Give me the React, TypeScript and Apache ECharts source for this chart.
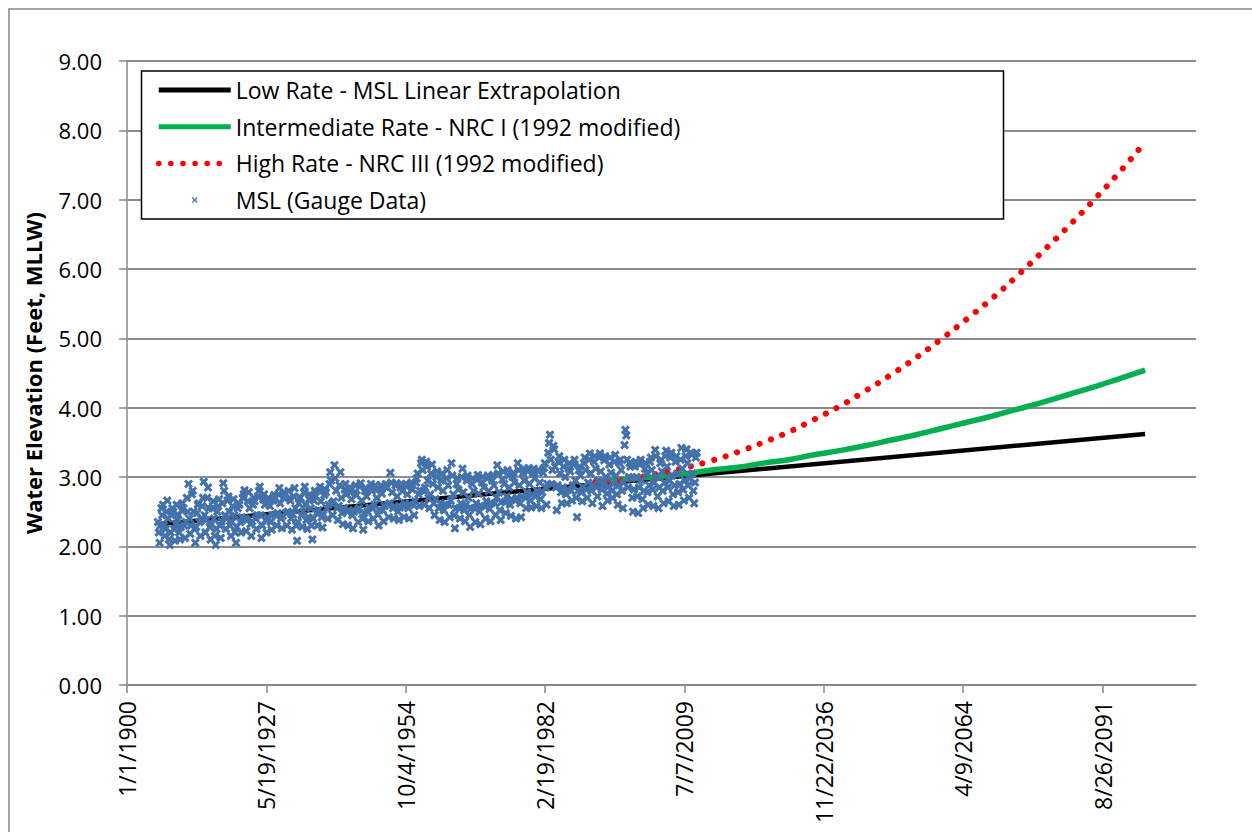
import React, { useEffect, useRef } from "react";
import * as echarts from "echarts";

const tickLabels = ["1/1/1900", "5/19/1927", "10/4/1954", "2/19/1982", "7/7/2009", "11/22/2036", "4/9/2064", "8/26/2091"];

const LOW = "Low Rate - MSL Linear Extrapolation";
const INT = "Intermediate Rate - NRC I (1992 modified)";
const HIGH = "High Rate - NRC III (1992 modified)";
const MSL = "MSL (Gauge Data)";

const lowYears = [1906, 2100];
const lowValues = [2.32, 3.62];

const projYears = [1992, 1995, 2000, 2005, 2010, 2015, 2020, 2025, 2030, 2035, 2040, 2045, 2050, 2055, 2060, 2065, 2070, 2075, 2080, 2085, 2090, 2095, 2100];
const intermediateValues = [2.93, 2.95, 2.98, 3.01, 3.05, 3.10, 3.14, 3.20, 3.25, 3.32, 3.38, 3.45, 3.53, 3.61, 3.70, 3.79, 3.88, 3.98, 4.08, 4.19, 4.30, 4.42, 4.54];
const highValues = [2.93, 2.95, 2.99, 3.06, 3.14, 3.24, 3.36, 3.50, 3.65, 3.83, 4.02, 4.24, 4.47, 4.72, 4.99, 5.28, 5.58, 5.91, 6.26, 6.62, 7.00, 7.40, 7.83];

// Gauge data: six readings per year, starting 1906
const mslFirstYear = 1906;
const mslPerYear = 6;
const msl1900s = [
  2.35, 2.20, 2.05, 2.30, 2.55, 2.45,
  2.60, 2.30, 2.15, 2.25, 2.50, 2.66,
  2.40, 2.10, 2.02, 2.20, 2.45, 2.55,
  2.50, 2.25, 2.08, 2.32, 2.60, 2.40,
];
const msl1910s = [
  2.45, 2.20, 2.10, 2.28, 2.52, 2.62,
  2.55, 2.30, 2.12, 2.35, 2.70, 2.50,
  2.90, 2.40, 2.18, 2.30, 2.75, 2.80,
  2.50, 2.25, 2.05, 2.28, 2.48, 2.60,
  2.62, 2.35, 2.15, 2.40, 2.58, 2.70,
  2.93, 2.45, 2.20, 2.38, 2.70, 2.85,
  2.55, 2.28, 2.10, 2.32, 2.55, 2.65,
  2.40, 2.15, 2.02, 2.25, 2.50, 2.58,
  2.68, 2.30, 2.12, 2.36, 2.62, 2.91,
  2.80, 2.45, 2.25, 2.40, 2.66, 2.72,
];
const msl1920s = [
  2.50, 2.30, 2.15, 2.35, 2.58, 2.68,
  2.45, 2.20, 2.05, 2.28, 2.55, 2.62,
  2.60, 2.35, 2.20, 2.42, 2.70, 2.75,
  2.81, 2.40, 2.22, 2.38, 2.65, 2.78,
  2.55, 2.32, 2.15, 2.36, 2.60, 2.70,
  2.65, 2.40, 2.25, 2.45, 2.72, 2.80,
  2.86, 2.45, 2.12, 2.30, 2.68, 2.75,
  2.60, 2.38, 2.20, 2.42, 2.70, 2.66,
  2.58, 2.35, 2.24, 2.45, 2.66, 2.74,
  2.70, 2.45, 2.30, 2.48, 2.75, 2.84,
];
const msl1930s = [
  2.62, 2.40, 2.26, 2.44, 2.70, 2.78,
  2.75, 2.48, 2.30, 2.50, 2.80, 2.70,
  2.66, 2.40, 2.24, 2.46, 2.72, 2.84,
  2.55, 2.30, 2.08, 2.35, 2.62, 2.70,
  2.70, 2.45, 2.28, 2.50, 2.78, 2.86,
  2.60, 2.38, 2.25, 2.42, 2.68, 2.75,
  2.55, 2.30, 2.10, 2.40, 2.66, 2.80,
  2.72, 2.48, 2.30, 2.52, 2.80, 2.86,
  2.65, 2.42, 2.27, 2.46, 2.74, 2.82,
  2.78, 2.55, 2.40, 2.60, 2.90, 3.07,
];
const msl1940s = [
  2.95, 2.62, 2.45, 2.65, 3.17, 2.98,
  2.80, 2.55, 2.38, 2.58, 2.88, 3.07,
  2.70, 2.48, 2.32, 2.55, 2.82, 2.90,
  2.75, 2.50, 2.30, 2.52, 2.85, 2.78,
  2.68, 2.45, 2.26, 2.50, 2.78, 2.88,
  2.74, 2.52, 2.35, 2.55, 2.86, 2.91,
  2.66, 2.40, 2.24, 2.48, 2.80, 2.84,
  2.72, 2.50, 2.36, 2.56, 2.84, 2.90,
  2.80, 2.55, 2.40, 2.60, 2.88, 2.82,
  2.70, 2.46, 2.30, 2.52, 2.82, 2.88,
];
const msl1950s = [
  2.76, 2.52, 2.36, 2.58, 2.86, 2.90,
  2.85, 2.60, 2.42, 2.62, 3.06, 2.92,
  2.78, 2.55, 2.40, 2.58, 2.88, 2.91,
  2.72, 2.50, 2.38, 2.56, 2.85, 2.90,
  2.80, 2.58, 2.42, 2.62, 2.90, 2.86,
  2.75, 2.55, 2.40, 2.60, 2.88, 2.92,
  2.82, 2.60, 2.45, 2.65, 2.92, 2.98,
  3.05, 2.75, 2.58, 2.80, 3.20, 3.25,
  3.10, 2.80, 2.60, 2.85, 3.22, 3.15,
  2.95, 2.70, 2.55, 2.75, 3.05, 3.18,
];
const msl1960s = [
  2.90, 2.62, 2.45, 2.68, 3.00, 3.08,
  2.85, 2.55, 2.38, 2.62, 2.95, 3.05,
  2.80, 2.52, 2.35, 2.60, 2.98, 3.10,
  2.88, 2.60, 2.42, 2.66, 3.20, 3.02,
  2.75, 2.45, 2.26, 2.55, 2.90, 2.98,
  2.82, 2.55, 2.40, 2.62, 3.00, 3.12,
  2.78, 2.52, 2.36, 2.60, 2.95, 3.02,
  2.70, 2.45, 2.28, 2.55, 2.90, 2.98,
  2.80, 2.55, 2.35, 2.62, 2.96, 3.03,
  2.76, 2.50, 2.32, 2.58, 2.92, 3.00,
];
const msl1970s = [
  2.85, 2.58, 2.40, 2.65, 2.98, 3.02,
  2.80, 2.54, 2.36, 2.62, 2.95, 3.03,
  2.88, 2.62, 2.45, 2.70, 3.17, 3.05,
  2.78, 2.52, 2.38, 2.64, 2.96, 3.08,
  2.90, 2.64, 2.48, 2.72, 3.10, 3.02,
  2.85, 2.60, 2.44, 2.68, 3.00, 3.06,
  2.92, 2.66, 2.40, 2.70, 3.20, 3.10,
  2.88, 2.62, 2.42, 2.72, 3.05, 3.12,
  2.95, 2.70, 2.55, 2.78, 3.08, 3.13,
  2.90, 2.66, 2.56, 2.75, 3.05, 3.12,
];
const msl1980s = [
  2.98, 2.72, 2.58, 2.80, 3.10, 3.08,
  2.92, 2.68, 2.55, 2.78, 3.06, 3.13,
  3.20, 2.85, 2.60, 2.90, 3.35, 3.49,
  3.61, 3.25, 2.90, 3.10, 3.45, 3.40,
  3.15, 2.85, 2.52, 2.88, 3.22, 3.30,
  3.05, 2.78, 2.62, 2.85, 3.15, 3.25,
  3.00, 2.75, 2.62, 2.82, 3.12, 3.20,
  3.08, 2.80, 2.66, 2.88, 3.18, 3.25,
  2.95, 2.70, 2.42, 2.80, 3.10, 3.15,
  3.02, 2.78, 2.65, 2.86, 3.20, 3.28,
];
const msl1990s = [
  3.10, 2.82, 2.70, 2.92, 3.25, 3.34,
  3.05, 2.80, 2.62, 2.88, 3.22, 3.30,
  3.12, 2.85, 2.72, 2.95, 3.28, 3.34,
  3.08, 2.82, 2.58, 2.90, 3.24, 3.30,
  3.00, 2.76, 2.66, 2.86, 3.18, 3.28,
  3.06, 2.80, 2.70, 2.90, 3.22, 3.32,
  3.02, 2.75, 2.60, 2.88, 3.20, 3.25,
  3.10, 2.80, 2.55, 2.92, 3.46, 3.68,
  3.60, 3.25, 2.85, 3.00, 3.20, 3.15,
  2.98, 2.70, 2.50, 2.82, 3.15, 3.22,
];
const msl2000s = [
  3.00, 2.72, 2.48, 2.85, 3.18, 3.25,
  2.95, 2.68, 2.55, 2.80, 3.12, 3.20,
  3.05, 2.78, 2.60, 2.88, 3.22, 3.28,
  3.10, 2.82, 2.58, 2.92, 3.39, 3.30,
  3.00, 2.72, 2.55, 2.85, 3.20, 3.25,
  3.08, 2.80, 2.62, 2.92, 3.30, 3.38,
  3.15, 2.85, 2.65, 2.95, 3.28, 3.35,
  3.02, 2.75, 2.58, 2.88, 3.22, 3.30,
  3.05, 2.78, 2.60, 2.90, 3.25, 3.42,
  3.12, 2.82, 2.66, 2.95, 3.30, 3.40,
];
const msl2010s = [
  3.20, 2.88, 2.70, 2.98, 3.35, 3.32,
  3.05, 2.80, 2.62, 2.92, 3.28, 3.35,
];

const toDays = (year: number) => (year - 1900) * 365.25;

const FONT = "'Open Sans', 'Noto Sans', sans-serif";

export default function App() {
  const ref = useRef<HTMLDivElement>(null);

  useEffect(() => {
    if (!ref.current) return;
    const chart = echarts.init(ref.current, undefined, { renderer: "svg" });

    const mslAll = ([] as number[]).concat(
      msl1900s, msl1910s, msl1920s, msl1930s, msl1940s, msl1950s,
      msl1960s, msl1970s, msl1980s, msl1990s, msl2000s, msl2010s
    );
    const mslData = mslAll.map((v, i) => [
      toDays(mslFirstYear + (i + 0.5) / mslPerYear),
      v,
    ]);
    const lowData = lowYears.map((y, i) => [toDays(y), lowValues[i]]);
    const intData = projYears.map((y, i) => [toDays(y), intermediateValues[i]]);
    const highData = projYears.map((y, i) => [toDays(y), highValues[i]]);

    const tickVals = tickLabels.map((_, i) => i * 10000);
    const xSymbol =
      "path://M0,2.4L2.4,0L5,2.6L7.6,0L10,2.4L7.4,5L10,7.6L7.6,10L5,7.4L2.4,10L0,7.6L2.6,5Z";
    const legendXIcon =
      "path://M0,0L0,0M72,14L72,14M33,4.9L33.9,4L36,6.1L38.1,4L39,4.9L36.9,7L39,9.1L38.1,10L36,7.9L33.9,10L33,9.1L35.1,7Z";
    const hiddenSymbol = { opacity: 0 };

    chart.setOption({
      animation: false,
      backgroundColor: "#ffffff",
      textStyle: { fontFamily: FONT },
      graphic: [
        {
          type: "rect",
          z: 0,
          silent: true,
          shape: { x: 9, y: 9, width: 1300, height: 900 },
          style: { fill: "none", stroke: "#888888", lineWidth: 1.5 },
        },
        {
          type: "rect",
          z: 3,
          silent: true,
          shape: { x: 141.5, y: 71, width: 862, height: 148 },
          style: { fill: "#ffffff", stroke: "#000000", lineWidth: 1.5 },
        },
      ],
      grid: { left: 127, top: 61, right: 56, bottom: 147, containLabel: false },
      legend: {
        orient: "vertical",
        left: 156,
        top: 78,
        padding: 0,
        z: 10,
        itemWidth: 72,
        itemHeight: 14,
        itemGap: 12.7,
        selectedMode: false,
        textStyle: { fontSize: 23, color: "#000", fontFamily: FONT, lineHeight: 24 },
        data: [
          { name: LOW, itemStyle: hiddenSymbol, lineStyle: { width: 5, color: "#000000" } },
          { name: INT, itemStyle: hiddenSymbol, lineStyle: { width: 5, color: "#00B050" } },
          {
            name: HIGH,
            itemStyle: hiddenSymbol,
            lineStyle: { width: 5.5, color: "#FF0000", type: [0.1, 12], cap: "round" },
          },
          { name: MSL, icon: legendXIcon },
        ],
      },
      xAxis: {
        type: "value",
        min: 0,
        max: 76702,
        interval: 10000,
        axisLine: { show: true, lineStyle: { color: "#888888", width: 1.5 } },
        axisTick: {
          show: true,
          length: 8,
          customValues: tickVals,
          lineStyle: { color: "#888888", width: 1.5 },
        },
        axisLabel: {
          customValues: tickVals,
          rotate: 90,
          margin: 16,
          fontSize: 23,
          color: "#000",
          fontFamily: FONT,
          formatter: (v: number) => {
            const idx = Math.round(v / 10000);
            return Math.abs(v - idx * 10000) < 1 ? tickLabels[idx] ?? "" : "";
          },
        },
        splitLine: { show: false },
      },
      yAxis: {
        type: "value",
        min: 0,
        max: 9,
        interval: 1,
        name: "Water Elevation (Feet, MLLW)",
        nameLocation: "middle",
        nameGap: 83,
        nameTextStyle: { fontSize: 22, fontWeight: "bold", color: "#000", fontFamily: FONT },
        axisLine: { show: true, lineStyle: { color: "#888888", width: 1.5 } },
        axisTick: { show: true, length: 8, lineStyle: { color: "#888888", width: 1.5 } },
        axisLabel: {
          margin: 25,
          fontSize: 22,
          color: "#000",
          fontFamily: FONT,
          formatter: (v: number) => v.toFixed(2),
        },
        splitLine: { show: true, lineStyle: { color: "#8c8c8c", width: 2 } },
      },
      series: [
        {
          name: LOW,
          type: "line",
          data: lowData,
          symbol: "none",
          z: 2,
          lineStyle: { color: "#000000", width: 4.5 },
          itemStyle: { color: "#000000" },
        },
        {
          name: INT,
          type: "line",
          data: intData,
          symbol: "none",
          smooth: true,
          z: 2,
          lineStyle: { color: "#00B050", width: 5.5 },
          itemStyle: { color: "#00B050" },
        },
        {
          name: HIGH,
          type: "line",
          data: highData,
          symbol: "none",
          smooth: true,
          z: 2,
          lineStyle: { color: "#FF0000", width: 6, type: [0.1, 12], cap: "round" },
          itemStyle: { color: "#FF0000" },
        },
        {
          name: MSL,
          type: "scatter",
          data: mslData,
          symbol: xSymbol,
          symbolSize: 9,
          z: 3,
          itemStyle: { color: "#4371AB", opacity: 1 },
        },
      ],
    });

    return () => chart.dispose();
  }, []);

  return (
    <div
      ref={ref}
      style={{ position: "absolute", left: 0, top: 0, width: 1252, height: 832, background: "#fff" }}
    />
  );
}
